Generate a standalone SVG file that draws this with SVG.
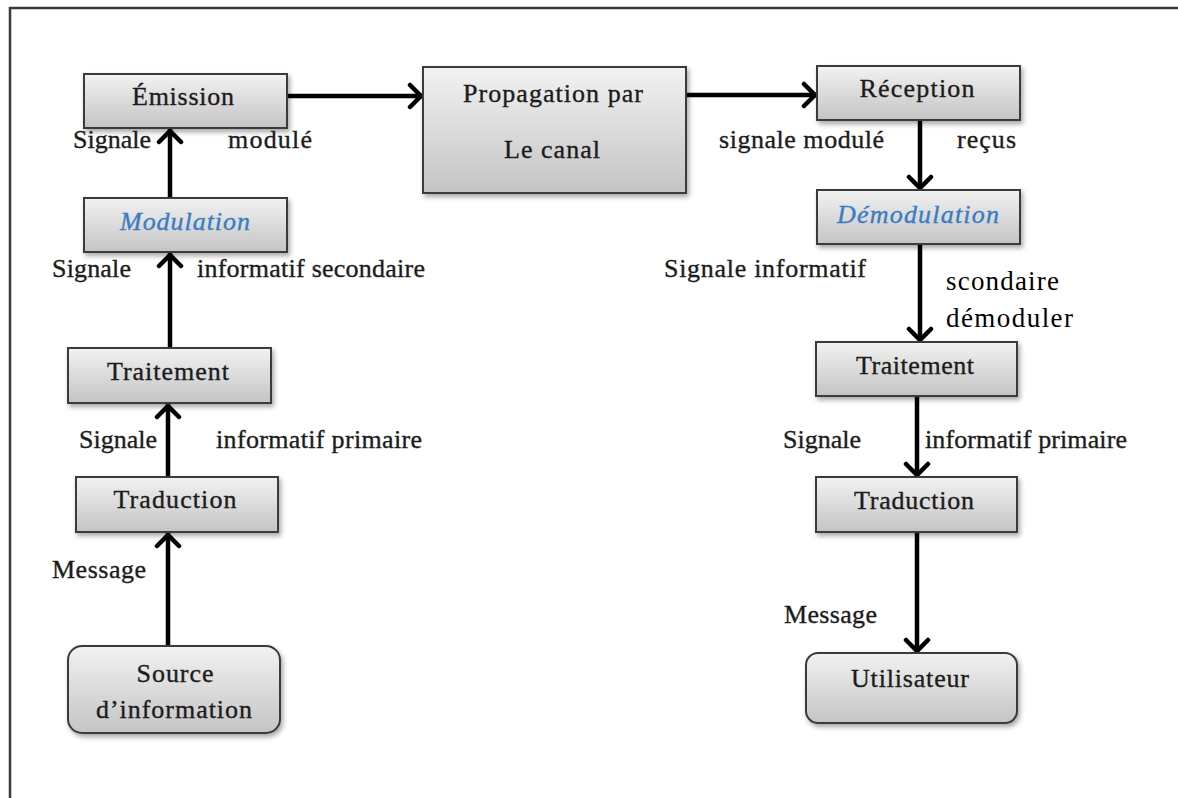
<svg xmlns="http://www.w3.org/2000/svg" width="1178" height="798" viewBox="0 0 1178 798">
<defs>
<linearGradient id="g" x1="0" y1="0" x2="0" y2="1">
<stop offset="0" stop-color="#f2f2f2"/>
<stop offset="1" stop-color="#c4c4c4"/>
</linearGradient>
<filter id="sh" x="-10%" y="-10%" width="125%" height="140%">
<feDropShadow dx="2" dy="3" stdDeviation="2.5" flood-color="#000" flood-opacity="0.35"/>
</filter>
<marker id="arr" viewBox="-16 -14 18 28" refX="0" refY="0" markerWidth="18" markerHeight="28" markerUnits="userSpaceOnUse" orient="auto">
<path d="M-13,-11 L-2,0 L-13,11" fill="none" stroke="#000" stroke-width="4.5" stroke-linecap="round" stroke-linejoin="miter"/>
</marker>
</defs>
<style>
.box{fill:url(#g);stroke:#3a3a3a;stroke-width:2;filter:url(#sh)}
.t{font-family:"Liberation Serif","Times New Roman",serif;font-size:26px;fill:#1c1c1c;stroke:#1c1c1c;stroke-width:0.35}
.c{text-anchor:middle}
.it{font-style:italic;fill:#3a7cc4;stroke:#3a7cc4}
.lbl{font-family:"Liberation Serif","Times New Roman",serif;font-size:26px;fill:#1c1c1c;stroke:#1c1c1c;stroke-width:0.35}
.plain{font-family:"Liberation Serif","Times New Roman",serif;font-size:27px;fill:#000}
.con{stroke:#000;stroke-width:4.5;fill:none;marker-end:url(#arr)}
</style>
<rect width="1178" height="798" fill="#fff"/>
<path d="M10,798 L10,8 L1178,8" fill="none" stroke="#3a3a3a" stroke-width="2.5"/>

<g id="connectors">
<line class="con" x1="287" y1="96" x2="423" y2="96"/>
<line class="con" x1="686" y1="95" x2="817" y2="95"/>
<line class="con" x1="170" y1="198" x2="170" y2="129"/>
<line class="con" x1="170" y1="348" x2="170" y2="253"/>
<line class="con" x1="168" y1="477" x2="168" y2="404"/>
<line class="con" x1="168" y1="646" x2="168" y2="533"/>
<line class="con" x1="920" y1="120" x2="920" y2="190"/>
<line class="con" x1="920" y1="244" x2="920" y2="342"/>
<line class="con" x1="917" y1="396" x2="917" y2="477"/>
<line class="con" x1="917" y1="532" x2="917" y2="653"/>
</g>

<g id="emission"><rect class="box" x="84" y="74" width="203" height="54"/><text class="t c" x="183" y="105" textLength="102">Émission</text></g>
<g id="modulation"><rect class="box" x="84" y="198" width="203" height="54"/><text class="t c it" x="185" y="230" textLength="130">Modulation</text></g>
<g id="traitement-e"><rect class="box" x="68" y="348" width="203" height="55"/><text class="t c" x="168" y="380" textLength="122">Traitement</text></g>
<g id="traduction-e"><rect class="box" x="76" y="477" width="202" height="55"/><text class="t c" x="175" y="508" textLength="123">Traduction</text></g>
<g id="source"><rect class="box" x="68" y="646" width="212" height="87" rx="14"/><text class="t c" x="175" y="682" textLength="77">Source</text><text class="t c" x="174" y="718" textLength="156">d’information</text></g>
<g id="propagation"><rect class="box" x="423" y="67" width="263" height="126"/><text class="t c" x="553" y="102" textLength="180">Propagation par</text><text class="t c" x="552" y="158" textLength="96">Le canal</text></g>
<g id="reception"><rect class="box" x="817" y="66" width="203" height="54"/><text class="t c" x="917" y="97" textLength="115">Réception</text></g>
<g id="demodulation"><rect class="box" x="817" y="190" width="203" height="54"/><text class="t c it" x="918" y="223" textLength="162">Démodulation</text></g>
<g id="traitement-r"><rect class="box" x="816" y="342" width="201" height="54"/><text class="t c" x="915" y="374" textLength="118">Traitement</text></g>
<g id="traduction-r"><rect class="box" x="816" y="477" width="201" height="55"/><text class="t c" x="914" y="509" textLength="120">Traduction</text></g>
<g id="utilisateur"><rect class="box" x="806" y="653" width="211" height="70" rx="12"/><text class="t c" x="910" y="687" textLength="118">Utilisateur</text></g>

<g id="labels">
<text class="lbl" x="73" y="148" textLength="78">Signale</text>
<text class="lbl" x="228" y="148" textLength="84">modulé</text>
<text class="lbl" x="52" y="277" textLength="79">Signale</text>
<text class="lbl" x="197" y="277" textLength="228">informatif secondaire</text>
<text class="lbl" x="79" y="448" textLength="78">Signale</text>
<text class="lbl" x="216" y="448" textLength="206">informatif primaire</text>
<text class="lbl" x="52" y="578" textLength="94">Message</text>
<text class="lbl" x="719" y="148" textLength="165">signale modulé</text>
<text class="lbl" x="957" y="148" textLength="59">reçus</text>
<text class="lbl" x="664" y="277" textLength="202">Signale informatif</text>
<text class="plain" x="946" y="290" textLength="113">scondaire</text>
<text class="plain" x="946" y="327" textLength="127">démoduler</text>
<text class="lbl" x="783" y="448" textLength="78">Signale</text>
<text class="lbl" x="925" y="448" textLength="202">informatif primaire</text>
<text class="lbl" x="784" y="623" textLength="93">Message</text>
</g>
</svg>
